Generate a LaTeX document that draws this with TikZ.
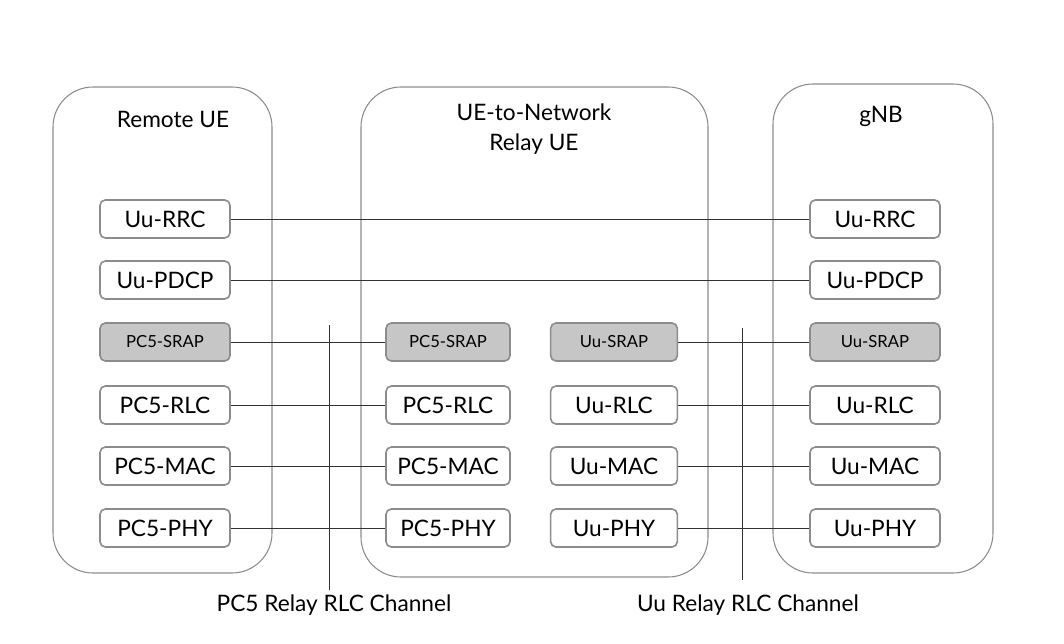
\documentclass[tikz,border=0pt]{standalone}
\usepackage{fontspec}
\setmainfont{Lato}
\usetikzlibrary{positioning}
\tikzset{
  entity/.style={draw=gray!90,line width=0.8pt,rounded corners=30pt},
  layer/.style={draw=gray!90,line width=1.2pt,rounded corners=4pt,fill=white,
    minimum width=97.5pt,minimum height=28.5pt,inner sep=1pt,font=\fontsize{17}{20}\selectfont},
  srap/.style={layer,fill=gray!45,font=\fontsize{12.5}{15}\selectfont},
  link/.style={draw=black!80,line width=0.6pt}
}
\begin{document}
\begin{tikzpicture}[x=0.75pt,y=-0.75pt]
\useasboundingbox (0,0) rectangle (1064,643);
% entities
\draw[entity] (53,87) rectangle (272,573);
\draw[entity] (361,87) rectangle (708,577);
\draw[entity] (773,84) rectangle (993,573);
\node[font=\fontsize{17}{20}\selectfont] (remote) at (173,119) {Remote UE};
\node[font=\fontsize{17}{20}\selectfont,align=center] (relay) at (534,129) {UE-to-Network\\[2pt]Relay UE};
\node[font=\fontsize{17}{20}\selectfont] (gnb) at (881,116) {gNB};
% remote UE stack
\node[layer] (rrrc) at (165,219) {Uu-RRC};
\node[layer] (rpdcp) at (165,280) {Uu-PDCP};
\node[srap] (rsrap) at (165,342) {PC5-SRAP};
\node[layer] (rrlc) at (165,405) {PC5-RLC};
\node[layer] (rmac) at (165,466) {PC5-MAC};
\node[layer] (rphy) at (165,528) {PC5-PHY};
% relay stacks
\node[srap,minimum width=93pt] (lsrap) at (448,342) {PC5-SRAP};
\node[layer,minimum width=93pt] (lrlc) at (448,405) {PC5-RLC};
\node[layer,minimum width=93pt] (lmac) at (448,466) {PC5-MAC};
\node[layer,minimum width=93pt] (lphy) at (448,528) {PC5-PHY};
\node[srap,minimum width=95pt] (usrap) at (614,342) {Uu-SRAP};
\node[layer,minimum width=95pt] (urlc) at (614,405) {Uu-RLC};
\node[layer,minimum width=95pt] (umac) at (614,466) {Uu-MAC};
\node[layer,minimum width=95pt] (uphy) at (614,528) {Uu-PHY};
% gNB stack
\node[layer] (grrc) at (875,219) {Uu-RRC};
\node[layer] (gpdcp) at (875,280) {Uu-PDCP};
\node[srap] (gsrap) at (875,342) {Uu-SRAP};
\node[layer] (grlc) at (875,405) {Uu-RLC};
\node[layer] (gmac) at (875,466) {Uu-MAC};
\node[layer] (gphy) at (875,528) {Uu-PHY};
% peer links
\draw[link] (rrrc) -- (grrc);
\draw[link] (rpdcp) -- (gpdcp);
\foreach \a/\b in {rsrap/lsrap,rrlc/lrlc,rmac/lmac,rphy/lphy,usrap/gsrap,urlc/grlc,umac/gmac,uphy/gphy}
  \draw[link] (\a) -- (\b);
% channels
\draw[link] (329,325) coordinate (pa) -- (329,590) coordinate (pb);
\draw[link] (742,328) coordinate (ua) -- (742,580) coordinate (ub);
\node[font=\fontsize{17}{20}\selectfont] (pc5ch) at (334,605) {PC5 Relay RLC Channel};
\node[font=\fontsize{17}{20}\selectfont] (uuch) at (748,605) {Uu Relay RLC Channel};
\end{tikzpicture}
\end{document}
